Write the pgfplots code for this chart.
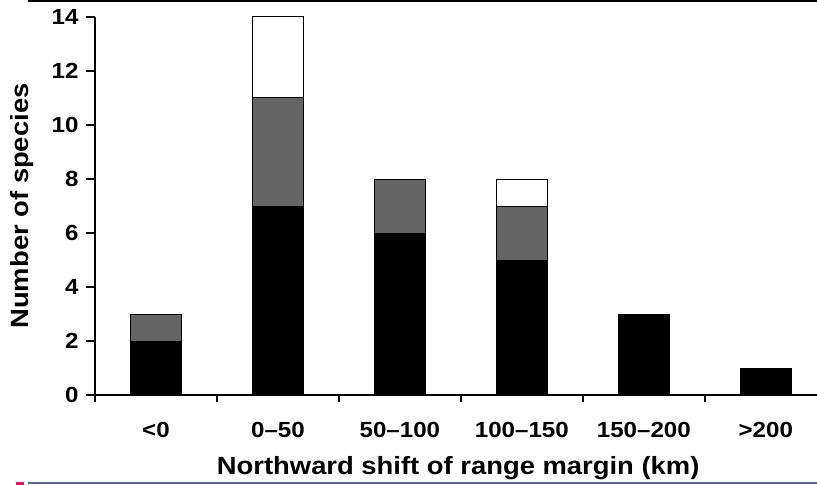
\documentclass[border=0pt]{standalone}
\usepackage{fontspec}
\setmainfont[FakeStretch=1.1]{Liberation Sans}
\usepackage{pgfplots}
\pgfplotsset{compat=1.18}
\definecolor{midgray}{RGB}{100,100,100}
\definecolor{rulblue}{RGB}{72,104,150}
\definecolor{rulmag}{RGB}{225,20,110}
\begin{document}
\begin{tikzpicture}
\useasboundingbox (-95bp,-90bp) rectangle (722bp,395bp);
\begin{axis}[
  at={(0,0)}, anchor=south west,
  scale only axis, width=722bp, height=378bp,
  xmin=-0.5, xmax=5.42, ymin=0, ymax=14,
  axis lines*=left,
  axis line style={line width=1.5bp, black},
  tick align=outside,
  ybar stacked, bar width=51bp,
  xtick={0,...,5},
  xticklabels={{<0},{0--50},{50--100},{100--150},{150--200},{>200}},
  major x tick style={draw=none},
  minor xtick={-0.5,0.5,1.5,2.5,3.5,4.5},
  minor tick length=7bp,
  major tick length=9bp,
  ytick={0,2,...,14},
  /pgf/number format/assume math mode=true,
  every tick/.style={line width=1.5bp, black},
  tick label style={font=\fontsize{22}{22}\selectfont\bfseries},
  xticklabel style={anchor=base, yshift=-33bp},
  yticklabel style={xshift=-4bp},
  ylabel={Number of species},
  xlabel={Northward shift of range margin (km)},
  every axis y label/.style={at={(axis description cs:-0.101,0.5)}, rotate=90, anchor=center, font=\fontsize{25}{25}\selectfont\bfseries},
  every axis x label/.style={at={(axis description cs:0.503,-0.193)}, anchor=center, font=\fontsize{25}{25}\selectfont\bfseries},
  clip=false,
]
\addplot[fill=black, draw=black, line width=1bp] coordinates {(0,2) (1,7) (2,6) (3,5) (4,3) (5,1)};
\addplot[fill=midgray, draw=black, line width=1bp] coordinates {(0,1) (1,4) (2,2) (3,2) (4,0) (5,0)};
\addplot[fill=white, draw=black, line width=1bp] coordinates {(0,0) (1,3) (2,0) (3,1) (4,0) (5,0)};
\end{axis}
\draw[line width=2bp, black] (-67bp,394.2bp) -- (722bp,394.2bp);
\draw[line width=2bp, rulblue] (-67bp,-88.3bp) -- (722bp,-88.3bp);
\draw[line width=3bp, rulmag] (-79bp,-88.3bp) -- (-71bp,-88.3bp);
\end{tikzpicture}
\end{document}
